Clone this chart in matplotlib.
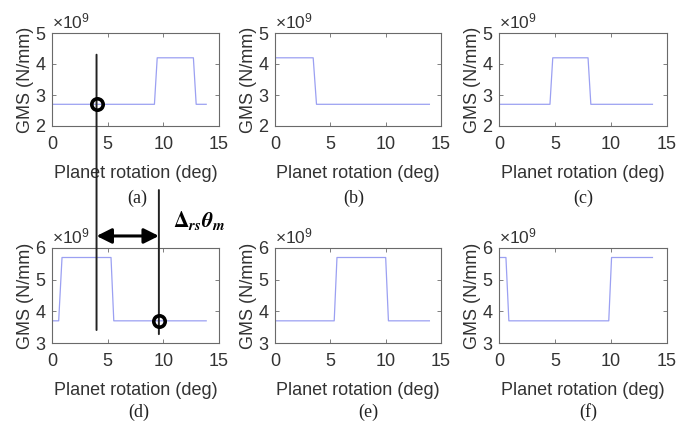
import matplotlib
matplotlib.use("Agg")
import matplotlib.pyplot as plt
from matplotlib.ticker import ScalarFormatter, FixedLocator
from matplotlib.patches import ConnectionPatch, FancyArrowPatch
from matplotlib.lines import Line2D

# Gear mesh stiffness of each planet over one mesh cycle (N/mm)
a_x = [0, 9.2, 9.45, 12.7, 12.95, 13.85]
a_y = [2.7e9, 2.7e9, 4.2e9, 4.2e9, 2.7e9, 2.7e9]
b_x = [0, 3.45, 3.75, 13.95]
b_y = [4.2e9, 4.2e9, 2.7e9, 2.7e9]
c_x = [0, 4.55, 4.8, 7.95, 8.2, 13.7]
c_y = [2.7e9, 2.7e9, 4.2e9, 4.2e9, 2.7e9, 2.7e9]
d_x = [0, 0.6, 0.9, 5.3, 5.55, 13.85]
d_y = [3.7e9, 3.7e9, 5.7e9, 5.7e9, 3.7e9, 3.7e9]
e_x = [0, 5.35, 5.6, 10.0, 10.25, 13.95]
e_y = [3.7e9, 3.7e9, 5.7e9, 5.7e9, 3.7e9, 3.7e9]
f_x = [0, 0.62, 0.88, 9.8, 10.05, 13.7]
f_y = [5.7e9, 5.7e9, 3.7e9, 3.7e9, 5.7e9, 5.7e9]

panel_labels = ["(a)", "(b)", "(c)", "(d)", "(e)", "(f)"]
x_ticks = [0, 5, 10, 15]
y_ticks_top = [2e9, 3e9, 4e9, 5e9]
y_ticks_bottom = [3e9, 4e9, 5e9, 6e9]

# marked phase points
mark_a = (4.0, 2.7e9)
mark_d = (9.6, 3.7e9)

plt.rcParams["font.family"] = ["Liberation Sans", "DejaVu Sans"]
plt.rcParams["mathtext.fontset"] = "custom"
plt.rcParams["mathtext.rm"] = "Liberation Sans"
plt.rcParams["mathtext.it"] = "Liberation Sans:italic"
plt.rcParams["mathtext.bf"] = "Liberation Sans:bold"

W, H = 689, 426
fig = plt.figure(figsize=(W / 100, H / 100), dpi=100)
fig.patch.set_facecolor("white")

txt = "#333333"
frame = "#6a6a6a"
line_col = "#9ba0f2"

def px_rect(x0, y0, x1, y1):
    return [x0 / W, (H - y1) / H, (x1 - x0) / W, (y1 - y0) / H]

rects = [
    px_rect(52, 33, 219, 126), px_rect(275, 33, 441, 126), px_rect(499, 33, 667, 126),
    px_rect(52, 248, 219, 343), px_rect(275, 248, 441, 343), px_rect(499, 248, 667, 343),
]
series = [(a_x, a_y), (b_x, b_y), (c_x, c_y), (d_x, d_y), (e_x, e_y), (f_x, f_y)]
axes = []
for i, (rect, (xs, ys)) in enumerate(zip(rects, series)):
    ax = fig.add_axes(rect)
    ax.plot(xs, ys, color=line_col, lw=0.9)
    ax.set_xlim(0, 15)
    if i < 3:
        ax.set_ylim(2e9, 5e9)
        ax.yaxis.set_major_locator(FixedLocator(y_ticks_top))
    else:
        ax.set_ylim(3e9, 6e9)
        ax.yaxis.set_major_locator(FixedLocator(y_ticks_bottom))
    ax.xaxis.set_major_locator(FixedLocator(x_ticks))
    fmt = ScalarFormatter(useMathText=True)
    fmt.set_powerlimits((0, 0))
    ax.yaxis.set_major_formatter(fmt)
    ax.yaxis.get_offset_text().set_fontsize(12.5)
    ax.yaxis.get_offset_text().set_color(txt)
    ax.tick_params(direction="in", top=True, right=True, length=3, width=0.6,
                   color=frame, labelsize=13, labelcolor=txt)
    ax.tick_params(axis="x", pad=7.5)
    ax.tick_params(axis="y", pad=4)
    for s in ax.spines.values():
        s.set_color(frame)
        s.set_linewidth(0.8)
    ax.set_xlabel("Planet rotation (deg)", fontsize=13, color=txt, labelpad=8.5)
    ax.set_ylabel("GMS (N/mm)", fontsize=13, color=txt, labelpad=1)
    axes.append(ax)

# panel captions
cap_pos = [(137, 198), (354, 198), (583, 198), (139, 412), (368, 412), (588, 412)]
for lab, (cx, cy) in zip(panel_labels, cap_pos):
    fig.text(cx / W, (H - cy) / H, lab, ha="center", va="center",
             fontsize=13, family="Liberation Serif", color="#222222")

ax_a, ax_d = axes[0], axes[3]

# vertical guide lines across the panels
con1 = ConnectionPatch(xyA=(mark_a[0], 4.3e9), coordsA=ax_a.transData,
                       xyB=(mark_a[0], 3.41e9), coordsB=ax_d.transData,
                       color="#222222", lw=1.4)
fig.add_artist(con1)
con2 = ConnectionPatch(xyA=(mark_d[0], 7.83e9), coordsA=ax_d.transData,
                       xyB=(mark_d[0], 3.28e9), coordsB=ax_d.transData,
                       color="#222222", lw=1.4)
fig.add_artist(con2)

# double arrow for the phase shift
arr = FancyArrowPatch((mark_a[0], 6.38e9), (mark_d[0], 6.38e9),
                      transform=ax_d.transData,
                      arrowstyle="<|-|>,head_length=0.6,head_width=0.3",
                      mutation_scale=15, color="black", lw=2.2,
                      shrinkA=0, shrinkB=0)
fig.add_artist(arr)

fig.text(173 / W, (H - 221) / H,
         r"$\mathbf{\Delta}_{\mathbfit{rs}}\mathbfit{\theta}_{\mathbfit{m}}$",
         ha="left", va="center", fontsize=15.5, math_fontfamily="stix", color="black")

# marked points
for ax, (mx, my) in ((ax_a, mark_a), (ax_d, mark_d)):
    fig.add_artist(Line2D([mx], [my], transform=ax.transData, marker="o",
                          markersize=8.2, markeredgewidth=2.6,
                          markeredgecolor="black", markerfacecolor="none",
                          linestyle="none"))

fig.savefig("out.png", dpi=100)
